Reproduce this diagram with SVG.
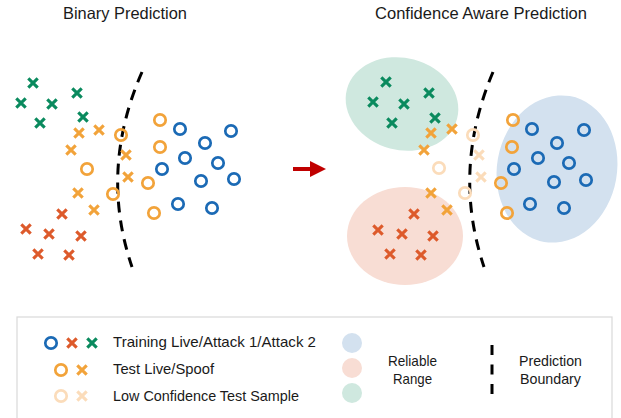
<svg xmlns="http://www.w3.org/2000/svg" xmlns:xlink="http://www.w3.org/1999/xlink" width="621" height="418" viewBox="0 0 621 418">
<style>
text{font-family:"Liberation Sans",Arial,sans-serif;fill:#1a1a1a}
.t{font-size:16.5px}
.l{font-size:14.5px}
.o{fill:none;stroke-width:2.7}
.x{stroke-width:3.1;stroke-linecap:butt}
.b{stroke:#1b6ab5}.r{stroke:#dd5a2b}.g{stroke:#0a8a5e}.y{stroke:#f2a33a}.p{stroke:#fbdcba}
.bd{fill:none;stroke:#000;stroke-width:3;stroke-dasharray:11 8}
</style>
<defs>
<circle id="O" r="5.7"/>
<path id="X" d="M-4.7,-4.7L4.7,4.7M4.7,-4.7L-4.7,4.7"/>
<marker id="ah" markerWidth="4" markerHeight="4" refX="0" refY="2" orient="auto"><path d="M0,0L4,2L0,4z" fill="#c00000"/></marker>
</defs>
<g id="titles">
<text class="t" x="63" y="19" textLength="124" lengthAdjust="spacingAndGlyphs">Binary Prediction</text>
<text class="t" x="375" y="19" textLength="212" lengthAdjust="spacingAndGlyphs">Confidence Aware Prediction</text>
</g>
<g id="regions">
<ellipse id="green-region" cx="402" cy="104" rx="57" ry="46" transform="rotate(15 402 104)" fill="#cfe8df"/>
<ellipse id="red-region" cx="405" cy="236" rx="58" ry="49" fill="#f8ddd4"/>
<ellipse id="blue-region" cx="557" cy="169" rx="60" ry="74" transform="rotate(10 557 169)" fill="#d3e1ef"/>
</g>
<g id="connectors">
<path class="bd" d="M142,72Q99,170 132,267"/>
<path class="bd" d="M493,72Q451.5,170 484,267"/>
<path d="M293,169H310" stroke="#c00000" stroke-width="4" marker-end="url(#ah)"/>
</g>
<g id="left-panel">
<g class="x g"><use href="#X" x="33" y="83"/><use href="#X" x="21" y="103"/><use href="#X" x="52" y="104"/><use href="#X" x="77" y="93"/><use href="#X" x="40" y="123"/><use href="#X" x="83" y="117"/></g>
<g class="x y"><use href="#X" x="79" y="133"/><use href="#X" x="99" y="130"/><use href="#X" x="71" y="150"/><use href="#X" x="126" y="155"/><use href="#X" x="128" y="177"/><use href="#X" x="78" y="193"/><use href="#X" x="94" y="210"/></g>
<g class="o y"><use href="#O" x="121" y="135"/><use href="#O" x="87" y="169"/><use href="#O" x="113" y="194"/><use href="#O" x="160" y="120"/><use href="#O" x="160" y="147"/><use href="#O" x="148" y="183"/><use href="#O" x="154" y="213"/></g>
<g class="o b"><use href="#O" x="180" y="129"/><use href="#O" x="231" y="131"/><use href="#O" x="205" y="143"/><use href="#O" x="185" y="158"/><use href="#O" x="162" y="169"/><use href="#O" x="218" y="163"/><use href="#O" x="201" y="181"/><use href="#O" x="234" y="179"/><use href="#O" x="178" y="204"/><use href="#O" x="212" y="208"/></g>
<g class="x r"><use href="#X" x="62" y="214"/><use href="#X" x="26" y="229"/><use href="#X" x="49" y="234"/><use href="#X" x="81" y="236"/><use href="#X" x="38" y="254"/><use href="#X" x="69" y="255"/></g>
</g>
<g id="right-panel">
<g class="x g"><use href="#X" x="386" y="82"/><use href="#X" x="373" y="102"/><use href="#X" x="404" y="104"/><use href="#X" x="429" y="93"/><use href="#X" x="392" y="123"/><use href="#X" x="435" y="118"/></g>
<g class="x y"><use href="#X" x="431" y="133"/><use href="#X" x="452" y="129"/><use href="#X" x="424" y="150"/><use href="#X" x="431" y="193"/><use href="#X" x="447" y="210"/></g>
<g class="x p"><use href="#X" x="479" y="155"/><use href="#X" x="481" y="177"/></g>
<g class="o p"><use href="#O" x="473" y="135"/><use href="#O" x="439" y="168"/><use href="#O" x="465" y="193"/></g>
<g class="o y"><use href="#O" x="513" y="120"/><use href="#O" x="512" y="147"/><use href="#O" x="501" y="183"/><use href="#O" x="507" y="213"/></g>
<g class="o b"><use href="#O" x="532" y="129"/><use href="#O" x="584" y="130"/><use href="#O" x="557" y="143"/><use href="#O" x="538" y="158"/><use href="#O" x="569" y="163"/><use href="#O" x="514" y="169"/><use href="#O" x="554" y="182"/><use href="#O" x="586" y="180"/><use href="#O" x="530" y="204"/><use href="#O" x="564" y="208"/></g>
<g class="x r"><use href="#X" x="414" y="214"/><use href="#X" x="378" y="230"/><use href="#X" x="402" y="234"/><use href="#X" x="433" y="236"/><use href="#X" x="390" y="254"/><use href="#X" x="421" y="255"/></g>
</g>
<g id="legend">
<rect x="17" y="317" width="595" height="120" fill="#fff" stroke="#d9d9d9" stroke-width="1.2"/>
<use href="#O" x="51" y="343" class="o b"/><use href="#X" x="72" y="343" class="x r"/><use href="#X" x="92" y="343" class="x g"/>
<text class="l" x="113" y="347" textLength="203" lengthAdjust="spacingAndGlyphs">Training Live/Attack 1/Attack 2</text>
<use href="#O" x="61" y="370" class="o y"/><use href="#X" x="82" y="370" class="x y"/>
<text class="l" x="113" y="374" textLength="101" lengthAdjust="spacingAndGlyphs">Test Live/Spoof</text>
<use href="#O" x="61" y="396" class="o p"/><use href="#X" x="82" y="396" class="x p"/>
<text class="l" x="113" y="401" textLength="186" lengthAdjust="spacingAndGlyphs">Low Confidence Test Sample</text>
<circle cx="352" cy="343" r="10" fill="#d3e1ef"/>
<circle cx="352" cy="368" r="10" fill="#f8ddd4"/>
<circle cx="352" cy="393" r="10" fill="#cfe8df"/>
<text class="l" x="388" y="366" textLength="49" lengthAdjust="spacingAndGlyphs">Reliable</text>
<text class="l" x="393" y="384" textLength="39" lengthAdjust="spacingAndGlyphs">Range</text>
<path d="M492,345V394" stroke="#000" stroke-width="3" stroke-dasharray="10 9.5"/>
<text class="l" x="519" y="366" textLength="63" lengthAdjust="spacingAndGlyphs">Prediction</text>
<text class="l" x="520" y="384" textLength="61" lengthAdjust="spacingAndGlyphs">Boundary</text>
</g>
</svg>
